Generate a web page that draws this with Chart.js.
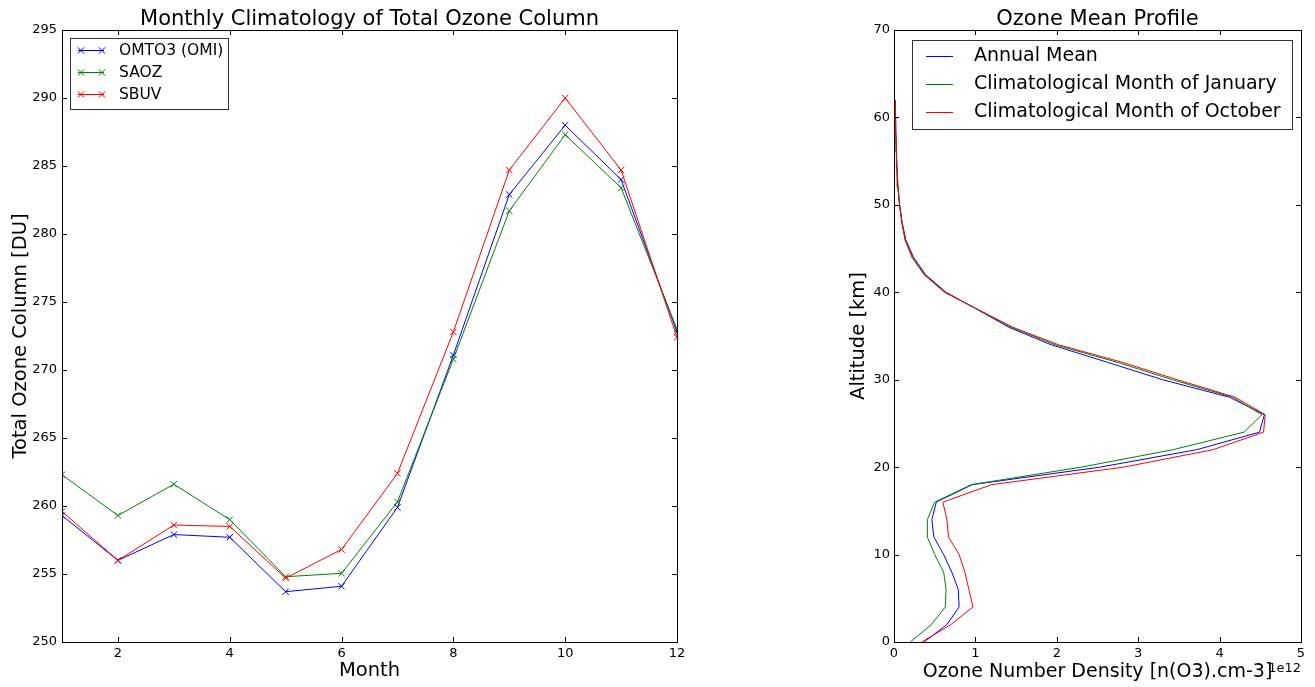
<!DOCTYPE html>
<html>
<head>
<meta charset="utf-8">
<script src="https://cdn.jsdelivr.net/npm/chart.js@4.4.0/dist/chart.umd.min.js"></script>
<style>
  html, body { margin: 0; padding: 0; background: #fff; }
  #wrap { position: relative; width: 1315px; height: 687px; overflow: hidden; }
  canvas { position: absolute; top: 0; }
</style>
</head>
<body>
<div id="wrap">
  <canvas id="columnChart" width="700" height="687" style="left:0"></canvas>
  <canvas id="profileChart" width="485" height="687" style="left:830px"></canvas>
</div>
<script>
// monthly total ozone column, DU
const months = [1, 2, 3, 4, 5, 6, 7, 8, 9, 10, 11, 12];
const omiColumn = [259.3, 256.0, 257.9, 257.7, 253.7, 254.1, 259.9, 271.1, 282.9, 288.0, 284.0, 272.8];
const saozColumn = [262.3, 259.3, 261.6, 259.0, 254.8, 255.05, 260.3, 270.8, 281.7, 287.3, 283.4, 273.0];
const sbuvColumn = [259.6, 256.0, 258.6, 258.5, 254.7, 256.8, 262.4, 272.8, 284.7, 290.0, 284.7, 272.4];

// ozone number density profile, in units of 1e12 cm-3
const altitudeKm = [0, 2, 4, 6, 8, 10, 12, 14, 16, 18, 20, 22, 24, 26, 28, 30,
  32, 34, 36, 38, 40, 42, 44, 46, 48, 50, 52, 54, 56, 58, 60, 62];
const annualMean = [0.37, 0.65, 0.80, 0.79, 0.71, 0.61, 0.49, 0.465, 0.52, 0.96, 2.53, 3.72, 4.49, 4.55, 4.12, 3.30,
  2.62, 1.93, 1.41, 1.03, 0.64, 0.39, 0.24, 0.145, 0.10, 0.07, 0.05, 0.038, 0.03, 0.025, 0.021, 0.018];
const januaryMean = [0.20, 0.46, 0.63, 0.64, 0.61, 0.50, 0.41, 0.41, 0.50, 0.95, 2.30, 3.43, 4.30, 4.52, 4.16, 3.42,
  2.74, 1.98, 1.44, 1.03, 0.63, 0.38, 0.23, 0.14, 0.098, 0.068, 0.049, 0.037, 0.029, 0.024, 0.02, 0.017];
const octoberMean = [0.34, 0.70, 0.97, 0.92, 0.87, 0.80, 0.67, 0.65, 0.60, 1.20, 2.82, 3.92, 4.54, 4.56, 4.19, 3.48,
  2.80, 2.02, 1.46, 1.04, 0.62, 0.37, 0.22, 0.135, 0.095, 0.067, 0.048, 0.036, 0.029, 0.024, 0.02, 0.017];
const densityExponent = '1e12';

Chart.defaults.font.family = '"DejaVu Sans", sans-serif';
Chart.defaults.color = '#000';

// matplotlib-style box: full frame plus inward ticks on all four sides
const frameTicks = {
  id: 'frameTicks',
  afterDatasetsDraw(chart) {
    const { ctx, chartArea: { left, right, top, bottom }, scales: { x, y } } = chart;
    const len = 5;
    ctx.save();
    ctx.strokeStyle = '#000';
    ctx.lineWidth = 1;
    ctx.beginPath();
    x.ticks.forEach(t => {
      const px = Math.round(x.getPixelForValue(t.value)) + 0.5;
      ctx.moveTo(px, bottom); ctx.lineTo(px, bottom - len);
      ctx.moveTo(px, top); ctx.lineTo(px, top + len);
    });
    y.ticks.forEach(t => {
      const py = Math.round(y.getPixelForValue(t.value)) + 0.5;
      ctx.moveTo(left, py); ctx.lineTo(left + len, py);
      ctx.moveTo(right, py); ctx.lineTo(right - len, py);
    });
    ctx.stroke();
    ctx.strokeRect(Math.round(left) + 0.5, Math.round(top) + 0.5, Math.round(right - left), Math.round(bottom - top));
    ctx.restore();
  },
};

// framed legend in the upper-left corner of the axes
const boxLegend = {
  id: 'boxLegend',
  afterDraw(chart, args, opts) {
    if (!opts.width) return;
    const { ctx, chartArea } = chart;
    const x0 = Math.round(chartArea.left + opts.offsetX);
    const y0 = Math.round(chartArea.top + opts.offsetY);
    ctx.save();
    ctx.fillStyle = '#fff';
    ctx.fillRect(x0, y0, opts.width, opts.height);
    ctx.strokeStyle = '#333';
    ctx.lineWidth = 1;
    ctx.strokeRect(x0 + 0.5, y0 + 0.5, opts.width, opts.height);
    ctx.font = opts.font;
    ctx.textBaseline = 'middle';
    chart.data.datasets.forEach((ds, i) => {
      const ly = y0 + opts.firstRow + i * opts.rowGap + 0.5;
      ctx.strokeStyle = ds.borderColor;
      ctx.beginPath();
      ctx.moveTo(x0 + opts.lineStart, ly);
      ctx.lineTo(x0 + opts.lineEnd, ly);
      ctx.stroke();
      if (opts.markers) {
        const style = { pointStyle: 'crossRot', radius: 4.5, rotation: 0, borderWidth: 1 };
        opts.markers.forEach(mx => Chart.helpers.drawPoint(ctx, style, x0 + mx, ly));
      }
      ctx.fillStyle = '#000';
      ctx.fillText(ds.label, x0 + opts.textX, ly);
    });
    ctx.restore();
  },
};

// exponent label under the right end of the x axis
const offsetLabel = {
  id: 'offsetLabel',
  afterDraw(chart, args, opts) {
    if (!opts.text) return;
    const { ctx, chartArea } = chart;
    ctx.save();
    ctx.font = '13px "DejaVu Sans"';
    ctx.fillStyle = '#000';
    ctx.textAlign = 'right';
    ctx.textBaseline = 'middle';
    ctx.fillText(opts.text, chartArea.right, chartArea.bottom + opts.dy);
    ctx.restore();
  },
};

function axisBase(extra) {
  return Object.assign({
    type: 'linear',
    grid: { display: false, drawTicks: false },
    border: { display: false },
  }, extra);
}

function columnSeries(label, values, color, order) {
  return {
    label,
    data: values.map((v, i) => ({ x: months[i], y: v })),
    borderColor: color,
    backgroundColor: color,
    pointBorderColor: color,
    borderWidth: 1,
    pointStyle: 'crossRot',
    pointRadius: 4.5,
    pointBorderWidth: 1,
    tension: 0,
    clip: 0,
    order,
  };
}

function profileSeries(label, values, color, order) {
  return {
    label,
    data: values.map((v, i) => ({ x: v, y: altitudeKm[i] })),
    borderColor: color,
    backgroundColor: color,
    borderWidth: 1,
    pointRadius: 0,
    tension: 0,
    clip: 0,
    order,
  };
}

const titleFont = { size: 21, weight: 'normal', lineHeight: 1 };
const titlePadding = { top: 9, bottom: 0 };

new Chart(document.getElementById('columnChart'), {
  type: 'line',
  data: {
    datasets: [
      columnSeries('OMTO3 (OMI)', omiColumn, '#0000ff', 3),
      columnSeries('SAOZ', saozColumn, '#008000', 2),
      columnSeries('SBUV', sbuvColumn, '#ff0000', 1),
    ],
  },
  options: {
    responsive: false,
    animation: false,
    events: [],
    layout: { padding: { left: 0, right: 23, top: 0, bottom: 0 } },
    plugins: {
      legend: { display: false },
      tooltip: { enabled: false },
      title: {
        display: true,
        text: 'Monthly Climatology of Total Ozone Column',
        font: titleFont,
        padding: titlePadding,
        fullSize: false,
      },
      boxLegend: {
        offsetX: 8, offsetY: 8, width: 158, height: 71,
        firstRow: 12, rowGap: 22, lineStart: 8, lineEnd: 34, textX: 49,
        markers: [11, 32], font: '15.5px "DejaVu Sans"',
      },
      offsetLabel: {},
    },
    scales: {
      x: axisBase({
        min: 1, max: 12,
        ticks: { stepSize: 2, includeBounds: false, padding: 4, font: { size: 13 } },
        title: { display: true, text: 'Month', font: { size: 19.5 }, padding: { top: 0, bottom: 4 } },
        afterFit(scale) { scale.height = 45; },
      }),
      y: axisBase({
        min: 250, max: 295,
        ticks: { stepSize: 5, padding: 5, font: { size: 13 } },
        title: { display: true, text: 'Total Ozone Column [DU]', font: { size: 19.5 }, padding: { top: 9 } },
        afterFit(scale) { scale.width = 62; },
      }),
    },
  },
  plugins: [frameTicks, boxLegend, offsetLabel],
});

new Chart(document.getElementById('profileChart'), {
  type: 'line',
  data: {
    datasets: [
      profileSeries('Annual Mean', annualMean, '#0000ff', 3),
      profileSeries('Climatological Month of January', januaryMean, '#008000', 2),
      profileSeries('Climatological Month of October', octoberMean, '#ff0000', 1),
    ],
  },
  options: {
    responsive: false,
    animation: false,
    events: [],
    layout: { padding: { left: 0, right: 14, top: 0, bottom: 0 } },
    plugins: {
      legend: { display: false },
      tooltip: { enabled: false },
      title: {
        display: true,
        text: 'Ozone Mean Profile',
        font: titleFont,
        padding: titlePadding,
        fullSize: false,
      },
      boxLegend: {
        offsetX: 18, offsetY: 10, width: 380, height: 89,
        firstRow: 16, rowGap: 28, lineStart: 14, lineEnd: 41, textX: 62,
        font: '19px "DejaVu Sans"',
      },
      offsetLabel: { text: densityExponent, dy: 27 },
    },
    scales: {
      x: axisBase({
        min: 0, max: 5,
        ticks: { stepSize: 1, padding: 4, font: { size: 13 } },
        title: { display: true, text: 'Ozone Number Density [n(O3).cm-3]', font: { size: 19 }, padding: { top: 0, bottom: 4 } },
        afterFit(scale) { scale.height = 45; },
      }),
      y: axisBase({
        min: 0, max: 70,
        ticks: { stepSize: 10, padding: 4, font: { size: 13 } },
        title: { display: true, text: 'Altitude [km]', font: { size: 19.5 }, padding: { top: 17.3 } },
        afterFit(scale) { scale.width = 64; },
      }),
    },
  },
  plugins: [frameTicks, boxLegend, offsetLabel],
});
</script>
</body>
</html>
